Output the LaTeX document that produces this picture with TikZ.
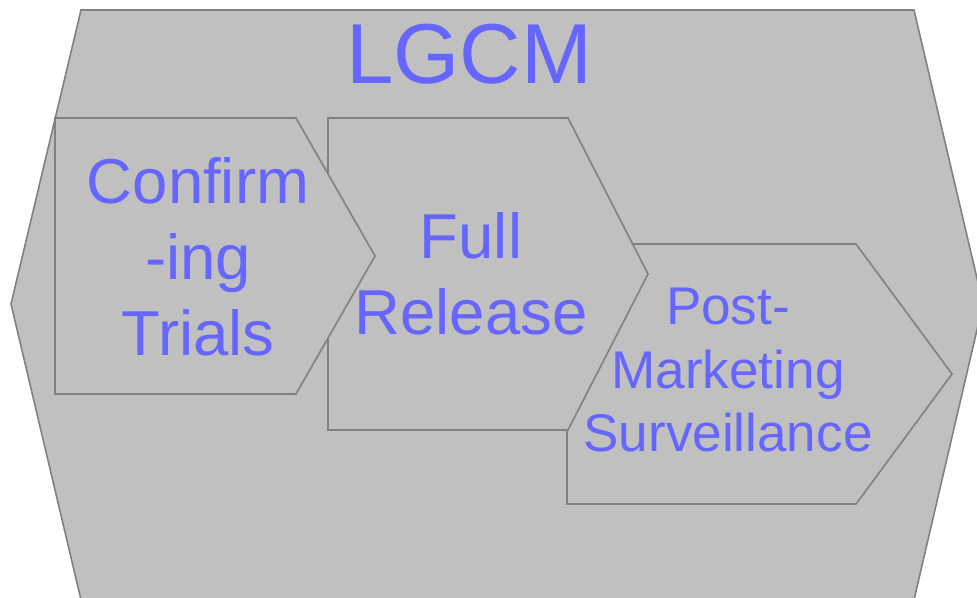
\documentclass[tikz,border=0pt]{standalone}
\usepackage{fontspec}
\setmainfont{Liberation Sans}
\usepackage{tikz}
\usetikzlibrary{positioning}

\definecolor{panelgray}{HTML}{C0C0C0}
\definecolor{edgegray}{HTML}{808080}
\definecolor{labelblue}{HTML}{6666FF}

\begin{document}
\begin{tikzpicture}[x=0.01cm, y=-0.01cm,
  panel/.style={fill=panelgray, draw=edgegray, line width=0.45pt},
  stagelabel/.style={text=labelblue, inner sep=0pt, align=center, font=\fontsize{18.05}{21.6}\selectfont},
  smalllabel/.style={text=labelblue, inner sep=0pt, align=center, font=\fontsize{15.1}{18.1}\selectfont}]
\useasboundingbox (0,0) rectangle (977,598);
\clip (0,0) rectangle (977,598);

% outer hexagon
\draw[panel] (81,10) -- (914,10) -- (983,304) -- (913,604) -- (82,604) -- (11,304) -- cycle;
\node[text=labelblue, inner sep=0pt, font=\fontsize{24.2}{29}\selectfont] (LGCM) at (469,54) {LGCM};

% stages, last one first so each overlaps the next
\draw[panel] (567,244) -- (856,244) -- (952,374) -- (856,504) -- (567,504) -- cycle;
\draw[panel] (328,118) -- (568,118) -- (648,274) -- (568,430) -- (328,430) -- cycle;
\draw[panel] (55,118) -- (296,118) -- (375,256) -- (296,394) -- (55,394) -- cycle;

\node[stagelabel] (Confirming) at (198,257) {Confirm\\-ing\\Trials};
\node[stagelabel] (FullRelease) at (471,274) {Full\\Release};
\node[smalllabel] (PostMarketing) at (728,370) {Post-\\Marketing\\Surveillance};
\end{tikzpicture}
\end{document}
